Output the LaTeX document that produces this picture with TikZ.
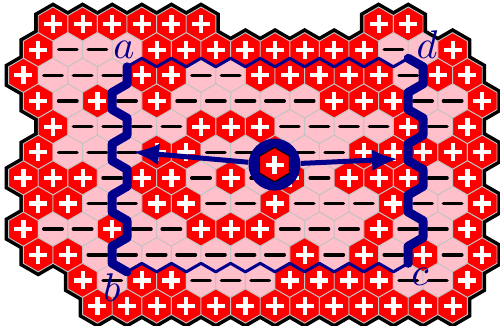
\documentclass[tikz,border=0pt]{standalone}
\usetikzlibrary{arrows.meta}
\definecolor{hexred}{RGB}{255,0,0}
\definecolor{hexpink}{RGB}{255,192,203}
\definecolor{pathblue}{RGB}{0,0,140}
\definecolor{cellgray}{RGB}{195,195,195}
\newcommand{\hexat}[2]{(#1,#2) ++(0,-17.09) -- ++(14.8,8.545) -- ++(0,17.09) -- ++(-14.8,8.545) -- ++(-14.8,-8.545) -- ++(0,-17.09) -- cycle}
\newcommand{\rowdata}{
0/{0,1,1,1,1,1,1,0,0,0,0,0,1,1,0,0,0},
1/{1,2,2,3,1,1,1,1,1,1,1,1,2,3,1,0},
2/{1,2,2,2,1,1,2,2,1,1,1,1,1,2,1,1,0},
3/{1,2,1,2,1,2,2,2,2,2,1,1,1,2,2,1},
4/{0,1,2,2,2,2,1,1,1,2,2,2,2,1,2,1,0},
5/{1,2,2,2,1,1,2,2,1,2,2,1,1,1,1,1},
6/{1,1,1,2,1,1,2,1,2,1,2,1,1,1,2,1,0},
7/{1,1,2,2,1,1,2,2,1,2,2,2,1,2,2,1},
8/{1,2,2,1,2,2,1,1,1,2,2,2,1,2,2,1,0},
9/{1,1,2,2,2,2,2,2,2,1,2,1,2,1,2,1},
10/{0,0,1,2,1,1,2,2,2,1,1,1,1,2,2,1,0},
11/{0,0,1,1,1,1,1,1,1,1,1,1,1,1,1,0}}
\begin{document}
\begin{tikzpicture}[x=1pt,y=-1pt,
  outline/.style={line width=8pt, draw=black, line join=miter},
  cellfill/.style={draw=cellgray, line width=0.9pt},
  plussign/.style={draw=white, line width=4.2pt},
  minussign/.style={draw=black, line width=3.5pt, line cap=round},
  thinpath/.style={draw=pathblue, line width=3pt, line join=round},
  thickpath/.style={draw=pathblue, line width=9pt, line join=round, line cap=round},
  arrowline/.style={draw=pathblue, line width=5pt, -{Latex[length=26pt,width=22pt]}},
  lbl/.style={text=pathblue, scale=4, inner sep=0pt}]
\useasboundingbox (0,0) rectangle (500,326);
% outer black outline
\foreach \r/\lst in \rowdata {
  \foreach \c [count=\k from 0] in \lst {
    \ifnum\c>0
      \pgfmathsetmacro\hx{23.4+29.6*\k+14.8*mod(\r,2)}
      \pgfmathsetmacro\hy{24.1+25.63*\r}
      \draw[outline] \hexat{\hx}{\hy};
    \fi
  }
}
% cells and signs
\foreach \r/\lst in \rowdata {
  \foreach \c [count=\k from 0] in \lst {
    \ifnum\c>0
      \pgfmathsetmacro\hx{23.4+29.6*\k+14.8*mod(\r,2)}
      \pgfmathsetmacro\hy{24.1+25.63*\r}
      \ifnum\c=1 \def\fc{hexred}\else\def\fc{hexpink}\fi
      \filldraw[cellfill, fill=\fc] \hexat{\hx}{\hy};
      \ifnum\c=1
        \draw[plussign] (\hx-9,\hy) -- (\hx+9,\hy) (\hx,\hy-9) -- (\hx,\hy+9);
      \fi
      \ifnum\c=2
        \draw[minussign] (\hx-9.2,\hy) -- (\hx+9.2,\hy);
      \fi
    \fi
  }
}
% corners of the region
\coordinate (A) at (127,66.82);
\coordinate (B) at (127,271.86);
\coordinate (C) at (408.2,263.315);
\coordinate (D) at (408.2,58.275);
% thin boundaries
\draw[thinpath] (A) \foreach \i in {1,...,18} { -- ({127+14.8*\i},{66.82-8.545*mod(\i,2)}) } -- (D);
\draw[thinpath] (B) \foreach \i in {1,...,18} { -- ({127+14.8*\i},{271.86-8.545*mod(\i,2)}) } -- (C);
% thick boundaries
\draw[thickpath] (A) -- (127,83.905) -- (112.2,92.45) -- (112.2,109.535) -- (127,118.08) -- (127,135.165) -- (112.2,143.71) -- (112.2,160.795) -- (127,169.34) -- (127,186.425) -- (112.2,194.97) -- (112.2,212.055) -- (127,220.6) -- (127,237.685) -- (112.2,246.23) -- (112.2,263.315) -- (B);
\draw[thickpath] (D) -- (423,66.82) -- (423,83.905) -- (408.2,92.45) -- (408.2,109.535) -- (423,118.08) -- (423,135.165) -- (408.2,143.71) -- (408.2,160.795) -- (423,169.34) -- (423,186.425) -- (408.2,194.97) -- (408.2,212.055) -- (423,220.6) -- (423,237.685) -- (408.2,246.23) -- (C);
% central charge and field arrows
\coordinate (tipL) at (133,152);
\coordinate (tipR) at (398,159);
\node[circle, fill=pathblue, minimum size=52pt, inner sep=0pt] (ring) at (274.5,164.6) {};
\draw[arrowline] (ring) -- (tipL);
\draw[arrowline] (ring) -- (tipR);
\filldraw[fill=hexred, draw=black, line width=1pt] \hexat{274.5}{164.6};
\draw[plussign] (265.5,164.6) -- (283.5,164.6) (274.5,155.6) -- (274.5,173.6);
% labels
\node[lbl] (la) at (124,50) {$a$};
\node[lbl] (lb) at (112,288) {$b$};
\node[lbl] (lc) at (420,277) {$c$};
\node[lbl] (ld) at (427,45) {$d$};
\end{tikzpicture}
\end{document}
